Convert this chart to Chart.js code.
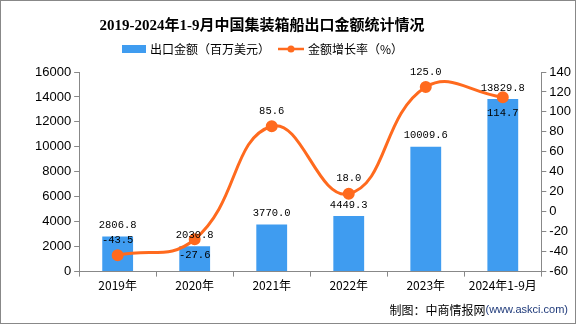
<!DOCTYPE html>
<html>
<head>
<meta charset="utf-8">
<script src="https://cdn.jsdelivr.net/npm/chart.js@4"></script>
<style>
  body { margin: 0; background: #fff; }
  #wrap { position: relative; width: 576px; height: 324px; box-sizing: border-box; border: 1px solid #888; }
</style>
</head>
<body>
<div id="wrap"><canvas id="chart" width="574" height="322"></canvas></div>
<script>
const categories = ["2019年", "2020年", "2021年", "2022年", "2023年", "2024年1-9月"];
const exportValues = [2806.8, 2030.8, 3770.0, 4449.3, 10009.6, 13829.8];
const growthRates = [-43.5, -27.6, 85.6, 18.0, 125.0, 114.7];
// which growth labels sit under their point
const rateBelow = [false, true, false, false, false, true];

const barColor = "#3f9cf0";
const lineColor = "#ff6a1e";
const cjk = "'Noto Sans CJK SC', sans-serif";
const mono = "'Liberation Mono', 'DejaVu Sans Mono', monospace";

// title, legend, labels and source text
const decor = {
  id: "decor",
  afterDatasetsDraw(chart) {
    const ctx = chart.ctx;
    ctx.save();
    // title
    ctx.fillStyle = "#000";
    ctx.font = "bold 15px 'Liberation Serif', " + cjk;
    ctx.textAlign = "center";
    ctx.textBaseline = "middle";
    ctx.fillText("2019-2024年1-9月中国集装箱船出口金额统计情况", 261, 25);

    // legend
    ctx.font = "12px " + cjk;
    ctx.textAlign = "left";
    ctx.fillStyle = barColor;
    ctx.fillRect(121, 44, 24, 8);
    ctx.fillStyle = "#000";
    ctx.fillText("出口金额（百万美元）", 149, 48);
    ctx.strokeStyle = lineColor;
    ctx.lineWidth = 2.5;
    ctx.beginPath();
    ctx.moveTo(277, 48);
    ctx.lineTo(303, 48);
    ctx.stroke();
    ctx.fillStyle = lineColor;
    ctx.beginPath();
    ctx.arc(290, 48, 3.5, 0, Math.PI * 2);
    ctx.fill();
    ctx.fillStyle = "#000";
    ctx.fillText("金额增长率（%）", 307, 48);

    // value labels
    ctx.font = "10.5px " + mono;
    ctx.textAlign = "center";
    ctx.textBaseline = "bottom";
    chart.getDatasetMeta(1).data.forEach((bar, i) => {
      ctx.fillText(exportValues[i].toFixed(1), bar.x, bar.y - 6);
    });
    chart.getDatasetMeta(0).data.forEach((pt, i) => {
      if (rateBelow[i]) {
        ctx.textBaseline = "top";
        ctx.fillText(growthRates[i].toFixed(1), pt.x, pt.y + 11);
      } else {
        ctx.textBaseline = "bottom";
        ctx.fillText(growthRates[i].toFixed(1), pt.x, pt.y - 10);
      }
    });

    // source
    ctx.textAlign = "right";
    ctx.textBaseline = "middle";
    const src = "(www.askci.com)";
    ctx.fillStyle = "#1f3a7a";
    ctx.font = "11px 'Liberation Sans', sans-serif";
    const w = ctx.measureText(src).width;
    ctx.fillText(src, 567, 309);
    ctx.fillStyle = "#000";
    ctx.font = "12px " + cjk;
    ctx.fillText("制图：中商情报网", 567 - w, 309);
    ctx.restore();
  }
};

new Chart(document.getElementById("chart"), {
  data: {
    labels: categories,
    datasets: [
      {
        type: "line",
        label: "金额增长率（%）",
        data: growthRates,
        yAxisID: "y1",
        borderColor: lineColor,
        backgroundColor: lineColor,
        borderWidth: 3,
        tension: 0.45,
        pointRadius: 4.5,
        pointHoverRadius: 4.5,
        order: 0
      },
      {
        type: "bar",
        label: "出口金额（百万美元）",
        data: exportValues,
        yAxisID: "y",
        backgroundColor: barColor,
        barPercentage: 0.4,
        categoryPercentage: 1,
        order: 1
      }
    ]
  },
  options: {
    responsive: false,
    animation: false,
    layout: { padding: { top: 71, left: 31, right: 1, bottom: 28 } },
    plugins: {
      legend: { display: false },
      title: { display: false },
      tooltip: { enabled: false }
    },
    scales: {
      x: {
        grid: { display: true, drawOnChartArea: false, offset: true, color: "#888", tickLength: 5 },
        border: { color: "#888" },
        ticks: { color: "#000", font: { size: 12, family: cjk }, padding: 2 }
      },
      y: {
        position: "left",
        min: 0,
        max: 16000,
        grid: { drawOnChartArea: false, color: "#888", tickLength: 5 },
        border: { color: "#888" },
        ticks: { stepSize: 2000, color: "#000", font: { size: 13, family: "'Liberation Sans', sans-serif" }, padding: 3, callback: v => String(v) }
      },
      y1: {
        position: "right",
        min: -60,
        max: 140,
        grid: { drawOnChartArea: false, color: "#888", tickLength: 5 },
        border: { color: "#888" },
        ticks: { stepSize: 20, color: "#000", font: { size: 13, family: "'Liberation Sans', sans-serif" }, padding: 3, callback: v => String(v) }
      }
    }
  },
  plugins: [decor]
});
</script>
</body>
</html>
